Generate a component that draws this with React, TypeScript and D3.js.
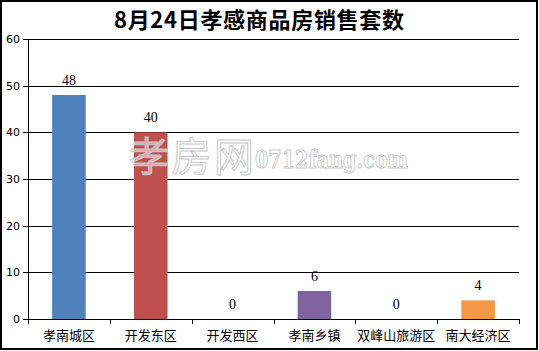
import React from "react";
import * as d3 from "d3";

const categories = ["孝南城区", "开发东区", "开发西区", "孝南乡镇", "双峰山旅游区", "南大经济区"];
const values = [48, 40, 0, 6, 0, 4];
const colors = ["#4F81BD", "#C0504D", "#9BBB59", "#8064A2", "#4BACC6", "#F79646"];
const yTicks = [0, 10, 20, 30, 40, 50, 60];
const title = "8月24日孝感商品房销售套数";

export default function App() {
  const W = 539, H = 351;
  const left = 28, right = 519, top = 39, bottom = 319;
  const x = d3.scaleBand<string>().domain(categories).range([left, right]).padding(0);
  const y = d3.scaleLinear().domain([0, 60]).range([bottom, top]);
  const bw = x.bandwidth() * 0.41;
  return (
    <svg width={W} height={H} style={{ position: "absolute", left: 0, top: 0, display: "block" }}>
      <rect x={0} y={0} width={W} height={H} fill="#fff" />
      <rect x={1} y={1} width={W - 3} height={H - 3} fill="none" stroke="#000" strokeWidth={2} />
      <text x={259} y={28} textAnchor="middle" fontFamily="'Noto Sans CJK SC'" fontWeight="bold" fontSize={22} textLength={290} fill="#000">{title}</text>
      {yTicks.map((t) => (
        <g key={t}>
          <line x1={left - 5} x2={right} y1={Math.round(y(t)) + 0.5} y2={Math.round(y(t)) + 0.5} stroke="#000" strokeWidth={1} />
          <text x={left - 8} y={y(t) + 4} textAnchor="end" fontFamily="'DejaVu Sans'" fontSize={11} fill="#000">{t}</text>
        </g>
      ))}
      <line x1={left + 0.5} x2={left + 0.5} y1={top} y2={bottom + 5} stroke="#000" strokeWidth={1} />
      {categories.map((c) => (
        <g key={c}>
          <line x1={Math.round(x(c)! + x.bandwidth()) + 0.5} x2={Math.round(x(c)! + x.bandwidth()) + 0.5} y1={bottom} y2={bottom + 5} stroke="#000" strokeWidth={1} />
          <text x={x(c)! + x.bandwidth() / 2} y={340} textAnchor="middle" fontFamily="'Noto Sans CJK SC'" fontSize={13} fill="#000">{c}</text>
        </g>
      ))}
      {categories.map((c, i) => {
        const cx = x(c)! + x.bandwidth() / 2;
        return (
          <g key={c + "b"}>
            {values[i] > 0 && (
              <rect x={cx - bw / 2} y={y(values[i])} width={bw} height={y(0) - y(values[i])} fill={colors[i]} />
            )}
            <text x={cx} y={y(values[i]) - 10} textAnchor="middle" fontFamily="'Liberation Serif'" fontSize={14} fill="#000">{values[i]}</text>
          </g>
        );
      })}
      <g>
        <text x={129} y={171} fontFamily="'Noto Sans CJK SC'" fontSize={40} textLength={125} fill="#fff" fillOpacity={0.55} stroke="#c8c8c8" strokeWidth={1}>孝房网</text>
        <text x={255} y={168} fontFamily="'DejaVu Serif'" fontWeight="bold" fontSize={24} textLength={153} lengthAdjust="spacingAndGlyphs" fill="#fff" fillOpacity={0.55} stroke="#c8c8c8" strokeWidth={1}>0712fang.com</text>
      </g>
    </svg>
  );
}
